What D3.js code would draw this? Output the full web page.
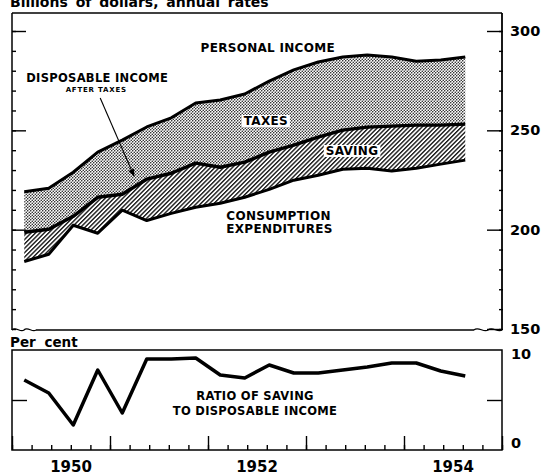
<!DOCTYPE html>
<html>
<head>
<meta charset="utf-8">
<script src="https://cdn.jsdelivr.net/npm/d3@7"></script>
<style>
  body { margin: 0; background: #fff; }
  svg { display: block; font-family: 'DejaVu Sans', sans-serif; font-weight: bold; }
</style>
</head>
<body>
<div id="vis"></div>
<script>
const WIDTH = 548;
const HEIGHT = 475;

// quarterly data, 1950 I - 1954 III
const quarters = ['1950 I', '1950 II', '1950 III', '1950 IV',
                  '1951 I', '1951 II', '1951 III', '1951 IV',
                  '1952 I', '1952 II', '1952 III', '1952 IV',
                  '1953 I', '1953 II', '1953 III', '1953 IV',
                  '1954 I', '1954 II', '1954 III'];

// billions of dollars, annual rates
const personalIncome = [219.1, 220.9, 228.9, 239.0, 245.1, 251.7, 256.3, 263.8, 265.3, 268.3,
                        274.8, 280.4, 284.4, 286.9, 287.9, 286.9, 284.8, 285.4, 286.9];
const disposableIncome = [198.7, 200.2, 206.7, 216.3, 217.8, 225.4, 228.4, 233.5, 231.4, 234.0,
                          239.0, 242.5, 246.6, 250.1, 251.6, 252.1, 252.6, 252.6, 253.1];
const consumption = [184.0, 187.6, 202.2, 198.2, 209.8, 204.6, 208.2, 211.3, 213.3, 216.3,
                     220.3, 224.9, 227.4, 230.4, 230.9, 229.5, 230.9, 233.0, 235.0];
// per cent
const savingRatio = [7.0, 5.7, 2.5, 8.0, 3.7, 9.1, 9.1, 9.2, 7.5, 7.2,
                     8.5, 7.7, 7.7, 8.0, 8.3, 8.7, 8.7, 7.9, 7.4];

const yearLabels = [1950, 1952, 1954];
const topTicks = [150, 200, 250, 300];
const ratioTicks = [0, 10];

const ROMAN = {I: 0, II: 1, III: 2, IV: 3};
// mid-point of a quarter as a decimal year
const qTime = (q) => {
  const [y, r] = q.split(' ');
  return +y + ROMAN[r] * 0.25 + 0.125;
};

const X0 = 12, X1 = 502;
const TOP = 13, BOT = 330;
const LTOP = 350, LBOT = 450;

const svg = d3.select('#vis')
  .append('svg')
    .attr('width', WIDTH)
    .attr('height', HEIGHT);

const X = d3.scaleLinear().domain([1950, 1955]).range([X0, X1]);
const Y = d3.scaleLinear().domain([150, 300]).range([329, 31]);
const YR = d3.scaleLinear().domain([0, 10]).range([LBOT, LTOP]);

// fill patterns
const defs = svg.append('defs');
const dots = defs.append('pattern')
    .attr('id', 'dots')
    .attr('patternUnits', 'userSpaceOnUse')
    .attr('width', 3).attr('height', 3);
dots.append('rect').attr('width', 3).attr('height', 3).attr('fill', '#fff');
dots.selectAll('circle')
  .data([[0.75, 0.75], [2.25, 2.25]])
  .enter().append('circle')
    .attr('cx', (d) => d[0]).attr('cy', (d) => d[1])
    .attr('r', 0.78).attr('fill', '#222');

const hatch = defs.append('pattern')
    .attr('id', 'hatch')
    .attr('patternUnits', 'userSpaceOnUse')
    .attr('width', 3.1).attr('height', 3.1)
    .attr('patternTransform', 'rotate(45)');
hatch.append('rect').attr('width', 3.1).attr('height', 3.1).attr('fill', '#fff');
hatch.append('line')
    .attr('x1', 0.7).attr('y1', 0).attr('x2', 0.7).attr('y2', 3.1)
    .attr('stroke', '#111').attr('stroke-width', 1.35);

const rows = quarters.map((q, i) => ({
  t: qTime(q),
  pi: personalIncome[i],
  di: disposableIncome[i],
  ce: consumption[i],
  sr: savingRatio[i]
}));

// bands
svg.append('path')
  .datum(rows)
    .attr('fill', 'url(#dots)')
    .attr('d', d3.area().x((d) => X(d.t)).y0((d) => Y(d.di)).y1((d) => Y(d.pi)));

svg.append('path')
  .datum(rows)
    .attr('fill', 'url(#hatch)')
    .attr('d', d3.area().x((d) => X(d.t)).y0((d) => Y(d.ce)).y1((d) => Y(d.di)));

// lines
const series = [['pi', 3], ['di', 3.4], ['ce', 3]];
series.forEach(([k, w]) => {
  svg.append('path')
    .datum(rows)
      .attr('fill', 'none')
      .attr('stroke', '#000')
      .attr('stroke-width', w)
      .attr('stroke-linejoin', 'round')
      .attr('d', d3.line().x((d) => X(d.t)).y((d) => Y(d[k])));
});

svg.append('path')
  .datum(rows)
    .attr('fill', 'none')
    .attr('stroke', '#000')
    .attr('stroke-width', 3.5)
    .attr('stroke-linejoin', 'round')
    .attr('d', d3.line().x((d) => X(d.t)).y((d) => YR(d.sr)));

// frames
const frame = svg.append('g').attr('fill', 'none').attr('stroke', '#000');
const wave = (xa, xb, y) => {
  const p = d3.path();
  const n = 2, w = (xb - xa) / n;
  p.moveTo(xa, y);
  for (let i = 0; i < n; i++) {
    p.bezierCurveTo(xa + w * i + w * 0.3, y - 4, xa + w * i + w * 0.7, y + 3, xa + w * (i + 1), y);
  }
  return p.toString();
};
frame.append('line').attr('x1', X0).attr('x2', X1).attr('y1', TOP).attr('y2', TOP).attr('stroke-width', 1.3);
frame.append('line').attr('x1', X0).attr('x2', X0).attr('y1', TOP).attr('y2', BOT).attr('stroke-width', 1.5);
frame.append('line').attr('x1', X1).attr('x2', X1).attr('y1', TOP).attr('y2', BOT).attr('stroke-width', 1.8);
frame.append('line').attr('x1', 36).attr('x2', 474).attr('y1', BOT).attr('y2', BOT).attr('stroke-width', 1.5);
frame.append('path').attr('d', wave(X0, 36, BOT)).attr('stroke-width', 1.3);
frame.append('path').attr('d', wave(474, X1, BOT)).attr('stroke-width', 1.3);
frame.append('rect')
    .attr('x', X0).attr('y', LTOP).attr('width', X1 - X0).attr('height', LBOT - LTOP)
    .attr('stroke-width', 1.5);

// axes
const clean = (g) => { g.select('.domain').remove(); g.selectAll('line').attr('stroke', '#000').attr('stroke-width', 1.4); };

svg.append('g')
    .attr('transform', 'translate(' + X1 + ',0)')
    .call(d3.axisRight(Y).tickValues(topTicks).tickSize(-15).tickPadding(8))
    .call(clean)
    .call((g) => g.selectAll('text').attr('font-size', 14.5).attr('font-weight', 'bold')
      .attr('font-family', 'DejaVu Sans').attr('fill', '#000'));
svg.append('g')
    .attr('transform', 'translate(' + (X1 + 1) + ',0)')
    .call(d3.axisRight(Y).ticks(15).tickSize(-4).tickFormat(''))
    .call(clean);

svg.append('g')
    .attr('transform', 'translate(' + X0 + ',0)')
    .call(d3.axisLeft(Y).tickValues(topTicks.slice(1)).tickSize(-14).tickFormat(''))
    .call(clean);
svg.append('g')
    .attr('transform', 'translate(' + X0 + ',0)')
    .call(d3.axisLeft(Y).ticks(15).tickSize(-4).tickFormat(''))
    .call(clean);

svg.append('g')
    .attr('transform', 'translate(' + X1 + ',0)')
    .call(d3.axisRight(YR).tickValues(ratioTicks).tickSize(0).tickPadding(9))
    .call(clean)
    .call((g) => g.selectAll('text').attr('font-size', 14.5).attr('font-weight', 'bold')
      .attr('font-family', 'DejaVu Sans').attr('fill', '#000')
      .attr('dy', (d) => d === 0 ? '-0.15em' : '0.6em'));
svg.append('g')
    .attr('transform', 'translate(' + X1 + ',0)')
    .call(d3.axisRight(YR).tickValues([5]).tickSize(-15).tickFormat(''))
    .call(clean);
svg.append('g')
    .attr('transform', 'translate(' + X0 + ',0)')
    .call(d3.axisLeft(YR).tickValues([5]).tickSize(-15).tickFormat(''))
    .call(clean);

svg.append('g')
    .attr('transform', 'translate(0,' + LBOT + ')')
    .call(d3.axisBottom(X).ticks(5).tickSize(-14).tickFormat(''))
    .call(clean);
svg.append('g')
    .attr('transform', 'translate(0,' + LBOT + ')')
    .call(d3.axisBottom(X).ticks(20).tickSize(-5).tickFormat(''))
    .call(clean);

svg.selectAll('.years')
  .data(yearLabels)
  .enter().append('text')
    .attr('x', (d) => X(d + 0.5) + (d === 1950 ? 10 : 0))
    .attr('y', 472)
    .attr('text-anchor', 'middle')
    .attr('font-size', 15)
    .text((d) => d);

// titles (the reference crops the top title at the page edge)
svg.append('text').attr('x', 10).attr('y', 7).attr('font-size', 14)
    .attr('word-spacing', 3).text('Billions of dollars, annual rates');
svg.append('text').attr('x', 10).attr('y', 347).attr('font-size', 13.5)
    .attr('word-spacing', 4).text('Per cent');

// labels
const label = (t, v, txt, size, scale, knock) => {
  const el = svg.append('text')
      .attr('x', X(t)).attr('y', (scale || Y)(v))
      .attr('text-anchor', 'middle')
      .attr('font-size', size)
      .attr('letter-spacing', size < 9 ? 0.8 : 0.3)
      .text(txt);
  if (knock) {
    const b = el.node().getBBox();
    svg.insert('rect', () => el.node())
        .attr('x', b.x - 2).attr('y', b.y + 1)
        .attr('width', b.width + 4).attr('height', b.height - 2)
        .attr('fill', '#fff');
  }
};
label(1952.61, 289.4, 'PERSONAL INCOME', 12);
label(1950.87, 274.3, 'DISPOSABLE INCOME', 11.5);
label(1950.86, 269.3, 'AFTER TAXES', 7);
label(1952.59, 252.7, 'TAXES', 12, Y, true);
label(1953.47, 237.6, 'SAVING', 12, Y, true);
label(1952.72, 204.9, 'CONSUMPTION', 12);
label(1952.73, 198.3, 'EXPENDITURES', 12);
label(1952.48, 5.0, 'RATIO OF SAVING', 11.5, YR);
label(1952.48, 3.5, 'TO DISPOSABLE INCOME', 11.5, YR);

// leader arrow
defs.append('marker')
    .attr('id', 'arrow')
    .attr('viewBox', '0 0 10 10')
    .attr('refX', 9).attr('refY', 5)
    .attr('markerWidth', 7).attr('markerHeight', 7)
    .attr('orient', 'auto')
  .append('path').attr('d', 'M0,1 L10,5 L0,9 Z').attr('fill', '#000');
svg.append('line')
    .attr('x1', X(1950.9)).attr('y1', Y(266.3))
    .attr('x2', X(1951.245)).attr('y2', Y(227.0))
    .attr('stroke', '#000').attr('stroke-width', 1.1)
    .attr('marker-end', 'url(#arrow)');
</script>
</body>
</html>
